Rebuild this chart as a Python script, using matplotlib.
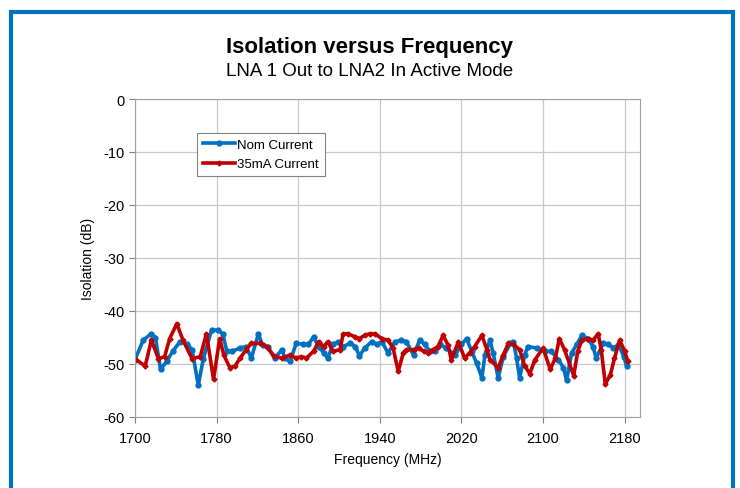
"""Isolation versus frequency, LNA1 out to LNA2, active mode."""

import matplotlib
matplotlib.use("Agg")
import matplotlib.pyplot as plt
from matplotlib.patches import Rectangle

plt.rcParams["font.family"] = ["Liberation Sans", "DejaVu Sans"]
plt.rcParams["axes.unicode_minus"] = False

# Nom Current trace
nom_freq = [1700, 1708, 1716, 1720, 1725, 1731, 1737, 1744, 1751, 1756, 1762, 1767,
            1775, 1781, 1786, 1790, 1795, 1803, 1809, 1814, 1821, 1825, 1830, 1837,
            1844, 1847, 1852, 1858, 1865, 1870, 1875, 1880, 1885, 1889, 1894, 1899,
            1904, 1911, 1916, 1920, 1925, 1932, 1937, 1942, 1948, 1955, 1961, 1966,
            1973, 1979, 1984, 1989, 1994, 1999, 2005, 2014, 2020, 2025, 2030, 2035,
            2040, 2043, 2048, 2051, 2056, 2061, 2068, 2071, 2074, 2077, 2082, 2085,
            2094, 2102, 2108, 2115, 2120, 2123, 2128, 2133, 2138, 2144, 2149, 2152,
            2159, 2164, 2169, 2174, 2179, 2182]
nom_iso = [-49.2, -45.5, -44.3, -45.0, -51.0, -49.5, -47.6, -45.8, -46.2, -47.3, -54.0, -49.0,
           -43.6, -43.6, -44.3, -47.6, -47.6, -47.0, -46.7, -48.9, -44.3, -46.5, -46.7, -48.9,
           -47.3, -48.9, -49.5, -46.1, -46.3, -46.3, -44.9, -46.7, -47.9, -48.9, -46.3, -45.8,
           -46.7, -46.1, -46.7, -48.5, -47.0, -45.8, -46.3, -45.8, -47.9, -45.8, -45.5, -45.8,
           -48.3, -45.5, -46.3, -47.6, -47.6, -46.3, -47.0, -48.3, -46.3, -45.2, -47.6, -49.9,
           -52.6, -48.3, -45.5, -47.9, -52.6, -48.6, -46.1, -45.8, -48.9, -52.6, -48.3, -46.7,
           -47.0, -47.6, -47.6, -49.2, -50.7, -53.1, -47.9, -46.3, -44.6, -45.2, -46.7, -48.9,
           -46.1, -46.3, -47.0, -46.3, -48.6, -50.4]

# 35mA Current trace
ma35_freq = [1700, 1710, 1716, 1723, 1729, 1734, 1741, 1747, 1756, 1764, 1770, 1777,
             1783, 1787, 1793, 1798, 1803, 1809, 1814, 1823, 1829, 1836, 1844, 1852,
             1858, 1863, 1868, 1875, 1880, 1885, 1889, 1894, 1901, 1904, 1909, 1916,
             1920, 1925, 1930, 1935, 1942, 1948, 1953, 1958, 1963, 1966, 1973, 1978,
             1983, 1987, 1992, 1997, 2002, 2007, 2010, 2017, 2023, 2028, 2033, 2040,
             2045, 2048, 2056, 2061, 2066, 2071, 2077, 2082, 2087, 2092, 2100, 2107,
             2112, 2116, 2121, 2130, 2134, 2138, 2144, 2149, 2154, 2157, 2161, 2166,
             2170, 2175, 2180, 2183]
ma35_iso = [-49.0, -50.4, -45.5, -49.0, -48.6, -45.2, -42.4, -45.5, -49.0, -48.6, -44.3, -52.9,
            -45.2, -48.3, -50.7, -50.4, -48.9, -47.3, -46.1, -46.1, -46.7, -48.5, -48.9, -48.3,
            -48.9, -48.6, -48.9, -47.6, -45.8, -46.7, -45.8, -47.6, -47.3, -44.3, -44.3, -44.9,
            -45.2, -44.6, -44.3, -44.3, -45.2, -45.5, -47.0, -51.4, -47.9, -47.3, -47.3, -47.0,
            -47.6, -47.9, -47.3, -46.7, -44.6, -46.5, -49.2, -45.8, -48.9, -47.9, -46.7, -44.6,
            -47.3, -49.2, -50.7, -48.3, -46.1, -46.3, -47.3, -50.4, -51.8, -49.2, -47.0, -51.0,
            -48.9, -45.2, -47.3, -52.2, -47.6, -45.5, -45.2, -45.5, -44.3, -47.3, -53.8, -52.0,
            -48.9, -45.5, -47.6, -49.5]

x_ticks = [1700, 1780, 1860, 1940, 2020, 2100, 2180]
y_ticks = [0, -10, -20, -30, -40, -50, -60]

fig = plt.figure(figsize=(7.4, 4.89), dpi=100)
fig.patches.append(Rectangle((11 / 740, -0.05), 722 / 740, 1.05 - 13 / 489,
                             transform=fig.transFigure, fill=False,
                             edgecolor="#0070C0", linewidth=3))

ax = fig.add_axes([135 / 740, 1 - 418 / 489, 505 / 740, 318 / 489])
ax.plot(nom_freq, nom_iso, color="#0070C0", linewidth=2.6, marker="o",
        markersize=3.5, label="Nom Current")
ax.plot(ma35_freq, ma35_iso, color="#C00000", linewidth=2.6, marker="D",
        markersize=2.5, label="35mA Current")

ax.set_xlim(1700, 2195)
ax.set_ylim(-60, 0)
ax.set_xticks(x_ticks)
ax.set_yticks(y_ticks)
ax.grid(True, color="#c8c8c8", linewidth=0.9)
ax.set_axisbelow(True)
for s in ax.spines.values():
    s.set_color("#a0a0a0")
ax.tick_params(colors="#808080", labelcolor="black", labelsize=10.5, length=4)
ax.tick_params(axis="x", pad=6)
ax.set_xlabel("Frequency (MHz)", fontsize=10, labelpad=5)
ax.set_ylabel("Isolation (dB)", fontsize=10, labelpad=6)

leg = ax.legend(loc="upper left", bbox_to_anchor=(0.11, 0.915), fontsize=9.5,
                fancybox=False, framealpha=1, edgecolor="#808080",
                handlelength=2.4, borderpad=0.45, labelspacing=0.55,
                handletextpad=0.2)
leg.get_frame().set_linewidth(0.8)

fig.text(0.5, 1 - 47 / 489, "Isolation versus Frequency", ha="center",
         va="center", fontsize=16, fontweight="bold")
fig.text(0.5, 1 - 72 / 489, "LNA 1 Out to LNA2 In Active Mode", ha="center",
         va="center", fontsize=13.5)

fig.savefig("out.png", dpi=100)
